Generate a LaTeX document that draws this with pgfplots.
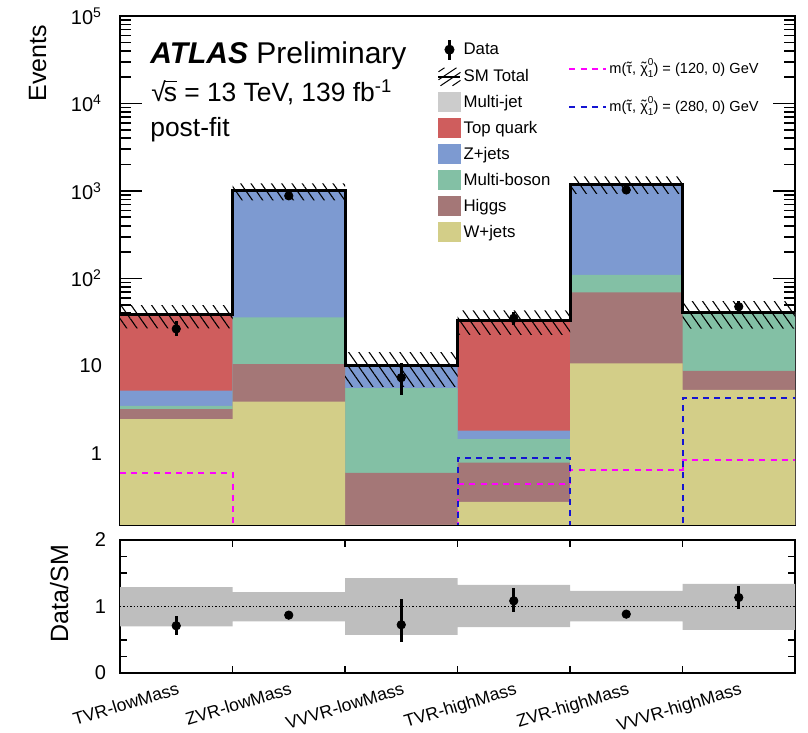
\documentclass[border=0pt]{standalone}
\usepackage{fontspec}
\setmainfont{Liberation Sans}
\usepackage{pgfplots}
\pgfplotsset{compat=1.18}
\usetikzlibrary{patterns,patterns.meta}

\definecolor{cMJ}{RGB}{204,204,204}
\definecolor{cTop}{RGB}{207,93,93}
\definecolor{cZ}{RGB}{125,154,209}
\definecolor{cMB}{RGB}{131,192,165}
\definecolor{cH}{RGB}{164,119,119}
\definecolor{cW}{RGB}{211,206,136}
\definecolor{cMag}{RGB}{255,0,255}
\definecolor{cBlu}{RGB}{20,20,210}
\definecolor{cBand}{RGB}{190,190,190}

\newcommand\tld[1]{\ooalign{#1\cr\hidewidth\raisebox{0.08em}{˜}\hidewidth\cr}}
\newcommand\chiz{\tld{χ}\rlap{\raisebox{0.55em}{\fontsize{5}{5}\selectfont 0}}\raisebox{-0.3em}{\fontsize{5}{5}\selectfont 1}}

\pgfplotsset{
  boxlegend/.style={legend image code/.code={\fill[#1] (0pt,-4.75pt) rectangle (11pt,4.75pt);}},
  siglegend/.style={legend image code/.code={\draw[#1, line width=1pt, dash pattern=on 3pt off 2.6pt] (0pt,0pt) -- (18.5pt,0pt);}},
}

\begin{document}
\begin{tikzpicture}
\path[use as bounding box] (0pt,0pt) rectangle (404pt,366.5pt);

% ---------------- main panel ----------------
\begin{axis}[
  at={(60pt,104pt)}, anchor=south west, scale only axis,
  width=337.5pt, height=254.5pt,
  xmin=0, xmax=6, ymode=log, ymin=0.152, ymax=1e5, log origin=infty,
  axis line style={line width=1pt},
  tick style={black, line width=0.8pt},
  major tick length=11pt, minor tick length=5.5pt,
  xtick=\empty, minor xtick={1,2,3,4,5},
  ytick={1,10,100,1000,10000,100000},
  minor ytick={0.2,0.3,0.4,0.5,0.6,0.7,0.8,0.9,2,3,4,5,6,7,8,9,20,30,40,50,60,70,80,90,200,300,400,500,600,700,800,900,2000,3000,4000,5000,6000,7000,8000,9000,20000,30000,40000,50000,60000,70000,80000,90000},
  yticklabels={1,10,10\textsuperscript{2},10\textsuperscript{3},10\textsuperscript{4},10\textsuperscript{5}},
  yticklabel style={font=\fontsize{10}{12}\selectfont, xshift=-5.5pt},
  /pgf/number format/assume math mode=true,
  ylabel={Events},
  ylabel style={at={(rel axis cs:-0.122,0.996)}, anchor=east, font=\fontsize{12.5}{15}\selectfont},
  legend style={at={(rel axis cs:0.4696,0.957)}, anchor=north west, draw=none, fill=none,
    font=\fontsize{8.4}{10}\selectfont, row sep=3.1pt, inner sep=0pt,
    nodes={inner sep=0pt, inner xsep=1pt, text height=7pt, text depth=2pt}},
  legend cell align=left,
]
% stacked backgrounds (cumulative tops)
\addplot[forget plot, const plot mark left, fill=cTop, draw=none] coordinates {(0,38.3)(1,1010)(2,10.1)(3,32.7)(4,1193)(5,41.1)(6,41.1)} \closedcycle;
\addplot[forget plot, const plot mark left, fill=cZ, draw=none] coordinates {(0,5.22)(1,1000)(2,10.1)(3,1.82)(4,1190)(5,41.1)(6,41.1)} \closedcycle;
\addplot[forget plot, const plot mark left, fill=cMB, draw=none] coordinates {(0,3.49)(1,36)(2,5.56)(3,1.46)(4,109.7)(5,41.1)(6,41.1)} \closedcycle;
\addplot[forget plot, const plot mark left, fill=cH, draw=none] coordinates {(0,3.2)(1,10.5)(2,0.6)(3,0.785)(4,69.5)(5,8.77)(6,8.77)} \closedcycle;
\addplot[forget plot, const plot mark left, fill=cW, draw=none] coordinates {(0,2.46)(1,3.9)(2,0.1)(3,0.28)(4,10.7)(5,5.32)(6,5.32)} \closedcycle;
% signals
\addplot[forget plot, const plot mark left, cMag, line width=1pt, dash pattern=on 3pt off 2.6pt] coordinates {(0,0.6)(1,0.01)(2,0.01)(3,0.45)(4,0.65)(5,0.84)(6,0.84)};
\addplot[forget plot, const plot mark left, cBlu, line width=1pt, dash pattern=on 3pt off 2.6pt] coordinates {(0,0.01)(1,0.01)(2,0.01)(3,0.88)(4,0.01)(5,4.3)(6,4.3)};
% uncertainty band
\addplot[forget plot, draw=none, pattern={Lines[angle=-55,distance=4.2pt,line width=0.55pt]}] coordinates {
 (0,49.4)(1,49.4)(1,1220)(2,1220)(2,14.4)(3,14.4)(3,43.2)(4,43.2)(4,1467)(5,1467)(5,55)(6,55)
 (6,26.7)(5,26.7)(5,925)(4,925)(4,22.6)(3,22.6)(3,5.76)(2,5.76)(2,780)(1,780)(1,26.8)(0,26.8)} -- cycle;
% SM total
\addplot[forget plot, const plot mark left, black, line width=1.5pt] coordinates {(0,38.3)(1,1010)(2,10.1)(3,32.7)(4,1193)(5,41.1)(6,41.1)};
% data
\addplot[forget plot, black, only marks, mark=*, mark size=2.1pt,
  error bars/.cd, y dir=both, y explicit, error mark=none, error bar style={line width=1.3pt}]
  coordinates {(0.5,26.5) += (0,5.8) -= (0,4.5)
               (1.5,880) += (0,30) -= (0,30)
               (2.5,7.35) += (0,3.35) -= (0,2.7)
               (3.5,35.1) += (0,6) -= (0,5.9)
               (4.5,1027) += (0,32) -= (0,32)
               (5.5,47.6) += (0,7) -= (0,7)};
% legend
\addlegendimage{legend image code/.code={\draw[line width=1.4pt] (5.5pt,-5pt)--(5.5pt,5pt); \fill (5.5pt,0pt) circle (2.3pt); \path (0pt,0pt) (11pt,0pt);}}
\addlegendentry{Data}
\addlegendimage{legend image code/.code={\draw[line width=0.5pt] (0pt,2.5pt)--(3pt,4.5pt) (0pt,-1.5pt)--(9pt,4.5pt) (1pt,-4.5pt)--(11pt,2.2pt) (7pt,-4.5pt)--(11pt,-1.8pt); \draw[line width=1.1pt] (0pt,0pt)--(11pt,0pt);}}
\addlegendentry{SM Total}
\addlegendimage{boxlegend=cMJ}
\addlegendentry{Multi-jet}
\addlegendimage{boxlegend=cTop}
\addlegendentry{Top quark}
\addlegendimage{boxlegend=cZ}
\addlegendentry{Z+jets}
\addlegendimage{boxlegend=cMB}
\addlegendentry{Multi-boson}
\addlegendimage{boxlegend=cH}
\addlegendentry{Higgs}
\addlegendimage{boxlegend=cW}
\addlegendentry{W+jets}
% labels
\node[anchor=base west, font=\fontsize{15}{18}\selectfont, inner sep=0pt] at (rel axis cs:0.0444,0.9057) {\textbf{\textit{ATLAS}} Preliminary};
\node[anchor=base west, font=\fontsize{13.2}{16}\selectfont, inner sep=0pt] at (rel axis cs:0.0459,0.8316) {√\kern-0.08em\rlap{\rule[0.74em]{0.52em}{0.06em}}s = 13 TeV, 139 fb\textsuperscript{-1}};
\node[anchor=base west, font=\fontsize{13.2}{16}\selectfont, inner sep=0pt] at (rel axis cs:0.0444,0.764) {post-fit};
\end{axis}

% ---------------- signal legend ----------------
\begin{axis}[
  at={(60pt,104pt)}, anchor=south west, scale only axis,
  width=337.5pt, height=254.5pt, hide axis,
  xmin=0, xmax=1, ymin=0, ymax=1,
  legend style={at={(rel axis cs:0.6637,0.912)}, anchor=north west, draw=none, fill=none,
    font=\fontsize{7.3}{8.5}\selectfont, row sep=11pt, inner sep=0pt,
    nodes={inner sep=0pt, inner xsep=1pt, text height=6pt, text depth=2pt}},
  legend cell align=left,
]
\addlegendimage{siglegend=cMag}
\addlegendentry{m(\tld{τ}, \chiz) = (120, 0) GeV}
\addlegendimage{siglegend=cBlu}
\addlegendentry{m(\tld{τ}, \chiz) = (280, 0) GeV}
\end{axis}

% ---------------- ratio panel ----------------
\begin{axis}[
  at={(60pt,30pt)}, anchor=south west, scale only axis,
  width=337.5pt, height=66.5pt,
  xmin=0, xmax=6, ymin=0, ymax=2,
  axis line style={line width=1pt},
  tick style={black, line width=0.8pt},
  major tick length=6.5pt, minor tick length=3.5pt,
  ytick={0,1,2}, minor ytick={0.25,0.5,0.75,1.25,1.5,1.75},
  xtick={0.5,1.5,2.5,3.5,4.5,5.5},
  xticklabels={TVR-lowMass,ZVR-lowMass,VVVR-lowMass,TVR-highMass,ZVR-highMass,VVVR-highMass},
  major x tick style={draw=none},
  minor xtick={1,2,3,4,5},
  xticklabel style={rotate=17, anchor=north east, inner sep=1pt, yshift=-3pt, font=\fontsize{8.8}{10}\selectfont},
  yticklabel style={font=\fontsize{10}{12}\selectfont, xshift=-3.5pt},
  /pgf/number format/assume math mode=true,
  ylabel={Data/SM},
  ylabel style={at={(rel axis cs:-0.09,1.015)}, anchor=east, font=\fontsize{12.5}{15}\selectfont},
]
\addplot[draw=none, fill=cBand] coordinates {
 (0,1.29)(1,1.29)(1,1.215)(2,1.215)(2,1.425)(3,1.425)(3,1.325)(4,1.325)(4,1.235)(5,1.235)(5,1.34)(6,1.34)
 (6,0.65)(5,0.65)(5,0.775)(4,0.775)(4,0.69)(3,0.69)(3,0.575)(2,0.575)(2,0.775)(1,0.775)(1,0.70)(0,0.70)} -- cycle;
\addplot[black, densely dotted, line width=0.7pt] coordinates {(0,1)(6,1)};
\addplot[black, only marks, mark=*, mark size=2.1pt,
  error bars/.cd, y dir=both, y explicit, error mark=none, error bar style={line width=1.3pt}]
  coordinates {(0.5,0.71) += (0,0.15) -= (0,0.135)
               (1.5,0.87) += (0,0.03) -= (0,0.03)
               (2.5,0.725) += (0,0.385) -= (0,0.265)
               (3.5,1.085) += (0,0.2) -= (0,0.175)
               (4.5,0.885) += (0,0.03) -= (0,0.03)
               (5.5,1.135) += (0,0.18) -= (0,0.175)};
\end{axis}
\end{tikzpicture}
\end{document}
